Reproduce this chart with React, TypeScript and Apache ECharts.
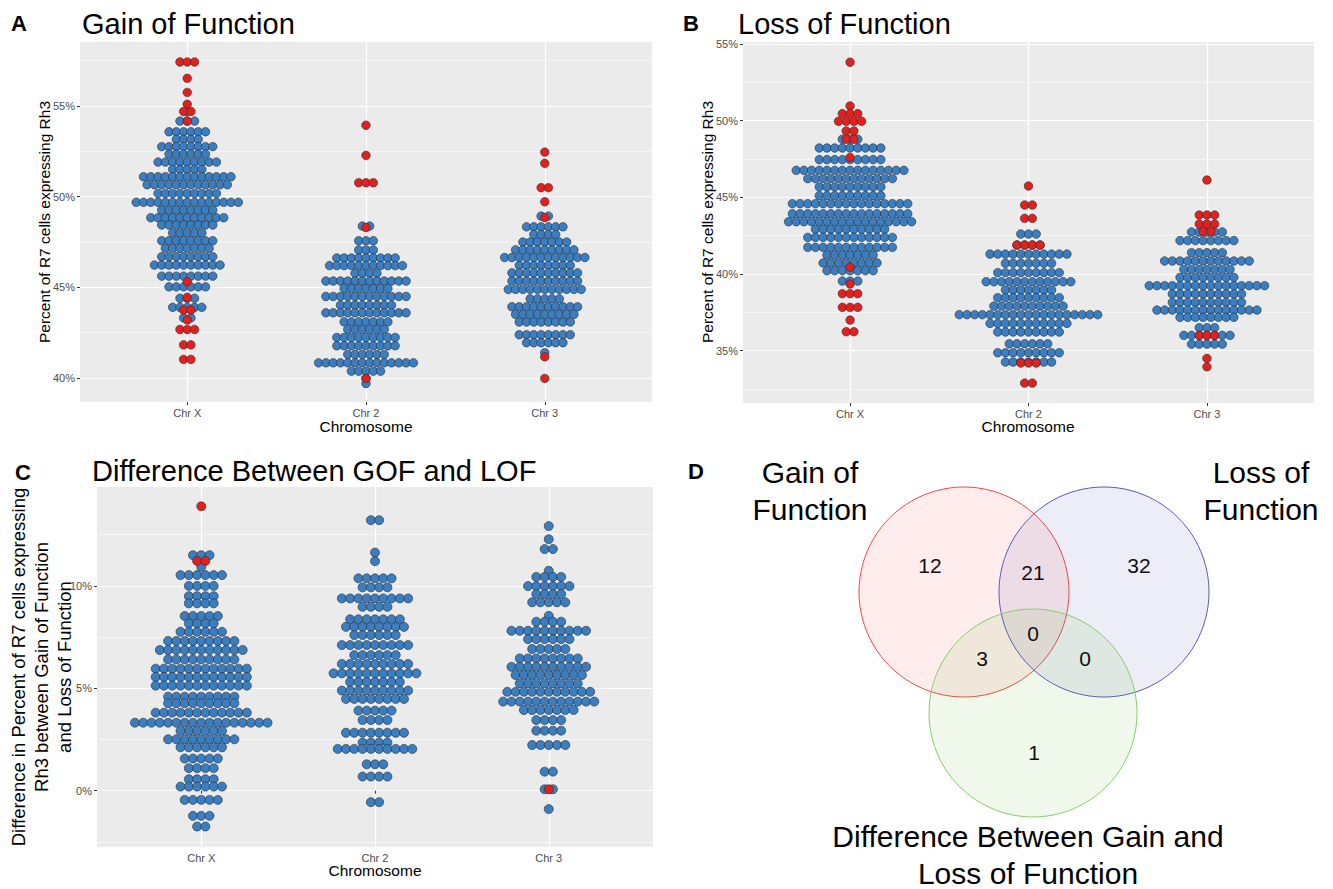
import React, { useEffect, useRef } from 'react';
import * as echarts from 'echarts';

const chromosomes = ['Chr X', 'Chr 2', 'Chr 3'];
const gofTicks = [40, 45, 50, 55];
const lofTicks = [35, 40, 45, 50, 55];
const diffTicks = [0, 5, 10];

// Panel A: Gain of Function — rows of [percent, number of dots]
const gofXBlue = [[54.7,1],[54.17,3],[53.58,6],[53.16,4],[52.76,8],[52.35,6],[51.91,9],[51.5,5],[51.1,13],[50.66,12],[50.18,9],[49.69,15],[49.26,8],[48.84,11],[48.44,8],[48.0,5],[47.57,8],[47.15,7],[46.69,8],[46.23,10],[45.62,8],[45.03,6],[44.4,3],[43.9,5],[43.32,2]];
const gofXRed = [[57.43,3],[56.53,1],[55.75,1],[55.1,1],[54.7,2],[54.17,1],[45.31,1],[44.45,1],[43.75,2],[43.2,1],[42.68,3],[41.83,2],[41.03,2]];
const gof2Blue = [[48.38,2],[47.57,3],[47.06,3],[46.62,9],[46.2,11],[45.77,4],[45.35,12],[44.94,7],[44.5,12],[44.02,8],[43.6,12],[43.1,7],[42.68,6],[42.24,9],[41.78,9],[41.3,6],[40.84,14],[40.38,5],[39.98,1],[39.7,1]];
const gof2Red = [[53.94,1],[52.28,1],[50.77,3],[48.3,1],[39.98,1]];
const gof3Blue = [[48.93,2],[48.34,6],[47.92,4],[47.5,7],[47.07,9],[46.65,12],[46.21,8],[45.8,10],[45.35,10],[44.89,11],[44.37,5],[43.93,10],[43.51,9],[43.09,8],[42.39,8],[41.95,6],[41.4,1]];
const gof3Red = [[52.46,1],[51.84,1],[50.5,2],[49.72,1],[48.85,1],[41.17,1],[39.98,1]];

// Panel B: Loss of Function
const lofXBlue = [[48.79,3],[48.22,9],[47.46,9],[46.76,15],[46.22,12],[45.68,9],[45.11,9],[44.59,16],[43.93,16],[43.41,17],[42.92,10],[42.39,12],[41.74,12],[41.24,7],[40.72,8],[40.22,7],[39.54,3]];
const lofXRed = [[53.81,1],[50.96,1],[50.46,3],[49.96,4],[49.33,2],[48.79,2],[47.6,1],[40.45,1],[39.35,1],[38.72,3],[37.83,3],[37.0,1],[36.24,2]];
const lof2Blue = [[42.61,3],[41.89,4],[41.3,11],[40.7,7],[40.09,9],[39.5,12],[38.96,7],[38.46,9],[37.91,10],[37.35,19],[36.78,11],[36.22,9],[35.45,6],[34.87,9],[34.26,7]];
const lof2Red = [[45.74,1],[44.5,2],[43.63,2],[41.89,4],[34.2,3],[32.89,2]];
const lof3Blue = [[42.74,5],[42.18,8],[41.39,5],[40.85,12],[40.3,7],[39.78,8],[39.24,16],[38.7,10],[38.15,10],[37.65,14],[37.18,8],[36.5,3],[36.0,7],[35.43,5]];
const lof3Red = [[46.13,1],[43.85,3],[43.26,3],[42.78,2],[36.0,3],[34.5,1],[33.95,1]];

// Panel C: Difference between GOF and LOF
const diffXBlue = [[11.5,3],[10.93,1],[10.53,6],[10.0,4],[9.5,4],[9.15,4],[8.53,5],[8.17,4],[7.76,6],[7.31,9],[6.87,11],[6.41,9],[5.96,12],[5.55,12],[5.13,12],[4.59,9],[4.27,9],[3.81,12],[3.32,17],[2.92,6],[2.51,9],[2.12,6],[1.57,5],[1.1,4],[0.56,4],[0.2,6],[-0.45,5],[-1.23,3],[-1.75,2]];
const diffXRed = [[13.89,1],[11.22,2]];
const diff2Blue = [[13.21,2],[11.63,1],[11.21,1],[10.37,5],[9.93,4],[9.39,9],[8.98,4],[8.37,7],[8.0,8],[7.6,6],[7.11,9],[6.62,6],[6.19,9],[5.73,11],[5.31,7],[4.89,9],[4.48,8],[3.91,5],[3.45,4],[2.83,8],[2.35,4],[2.04,10],[1.29,3],[0.69,4],[-0.56,2]];
const diff2Red: number[][] = [];
const diff3Blue = [[12.92,1],[12.28,1],[11.8,2],[10.74,1],[10.44,4],[9.99,6],[9.6,4],[9.2,5],[8.54,1],[8.25,4],[7.81,10],[7.4,6],[6.92,5],[6.46,8],[6.05,10],[5.65,9],[5.24,8],[4.83,11],[4.35,12],[3.94,7],[3.45,4],[2.93,4],[2.23,5],[0.93,2],[0.07,2],[-0.9,1]];
const diff3Red = [[0.07,1]];

// Panel D: Venn counts
const vennSets = ['Gain of\nFunction', 'Loss of\nFunction', 'Difference Between Gain and\nLoss of Function'];
const vennGofOnly = 12;
const vennGofLof = 21;
const vennLofOnly = 32;
const vennAll = 0;
const vennGofDiff = 3;
const vennLofDiff = 0;
const vennDiffOnly = 1;

const FONT = '"Liberation Sans", Arial, Helvetica, sans-serif';
const BLUE = '#3a7dc0';
const RED = '#e4201e';

function buildDots(groups: number[][][], step: number) {
  const out: number[][] = [];
  groups.forEach((rows, ci) => {
    rows.forEach(([v, n]) => {
      for (let j = 0; j < n; j++) out.push([ci + 1 + (j - (n - 1) / 2) * step, v]);
    });
  });
  return out;
}

const pctFmt = (v: number) => (Math.abs(v - Math.round(v / 5) * 5) < 1e-6 ? `${Math.round(v)}%` : '');

export default function App() {
  const ref = useRef<HTMLDivElement>(null);
  useEffect(() => {
    document.body.style.margin = '0';
    const chart = echarts.init(ref.current!, undefined, { renderer: 'svg' });
    const panels = [
      { left: 80, top: 42, width: 572, height: 360, min: 38.68, max: 58.53, ticks: gofTicks, step: 0.0408, size: 8.5,
        blue: [gofXBlue, gof2Blue, gof3Blue], red: [gofXRed, gof2Red, gof3Red] },
      { left: 743, top: 42, width: 571, height: 361, min: 31.59, max: 55.13, ticks: lofTicks, step: 0.0431, size: 8.5,
        blue: [lofXBlue, lof2Blue, lof3Blue], red: [lofXRed, lof2Red, lof3Red] },
      { left: 97, top: 487, width: 556, height: 360, min: -2.75, max: 14.83, ticks: diffTicks, step: 0.0477, size: 9,
        blue: [diffXBlue, diff2Blue, diff3Blue], red: [diffXRed, diff2Red, diff3Red] },
    ];
    const grid: any[] = [];
    const xAxis: any[] = [];
    const yAxis: any[] = [];
    const series: any[] = [];
    panels.forEach((p, i) => {
      grid.push({ left: p.left, top: p.top, width: p.width, height: p.height, show: true, backgroundColor: '#ebebeb', borderWidth: 0 });
      xAxis.push({
        type: 'value', gridIndex: i, min: 0.4, max: 3.6, minInterval: 1, maxInterval: 1,
        axisLine: { show: false },
        axisTick: { show: true, length: 3, customValues: [1, 2, 3], lineStyle: { color: '#333', width: 1 } },
        axisLabel: { customValues: [1, 2, 3], margin: 5, color: '#4d4d4d', fontSize: 11, fontFamily: FONT,
          formatter: (v: number) => chromosomes[Math.round(v) - 1] && Math.abs(v - Math.round(v)) < 1e-6 ? chromosomes[Math.round(v) - 1] : '' },
        splitLine: { show: true, lineStyle: { color: '#ffffff', width: 1.2 } },
      });
      // minor grid axis
      yAxis.push({
        type: 'value', gridIndex: i, position: 'right', min: p.min, max: p.max, minInterval: 2.5, maxInterval: 2.5,
        axisLine: { show: false }, axisTick: { show: false }, axisLabel: { show: false },
        splitLine: { show: true, showMinLine: false, showMaxLine: false, lineStyle: { color: '#f6f6f6', width: 1 } },
      });
      yAxis.push({
        type: 'value', gridIndex: i, position: 'left', min: p.min, max: p.max, minInterval: 5, maxInterval: 5,
        axisLine: { show: false },
        axisTick: { show: true, length: 3, customValues: p.ticks, lineStyle: { color: '#333', width: 1 } },
        axisLabel: { customValues: p.ticks, margin: 5, color: '#4d4d4d', fontSize: 11, fontFamily: FONT, formatter: pctFmt },
        splitLine: { show: true, lineStyle: { color: '#ffffff', width: 1.2 } },
      });
      series.push({
        type: 'scatter', xAxisIndex: i, yAxisIndex: i * 2 + 1, symbolSize: p.size, silent: true,
        itemStyle: { color: BLUE, borderColor: '#2a2a2a', borderWidth: 0.6, opacity: 1 },
        data: buildDots(p.blue, p.step),
      });
      series.push({
        type: 'scatter', xAxisIndex: i, yAxisIndex: i * 2 + 1, symbolSize: p.size, silent: true,
        itemStyle: { color: RED, borderColor: '#2a2a2a', borderWidth: 0.6, opacity: 1 },
        data: buildDots(p.red, p.step),
      });
    });

    const txt = (text: string, x: number, y: number, size: number, extra: any = {}) => ({
      type: 'text', x, y, z: 10, rotation: extra.rotation || 0,
      style: { text, fontSize: size, fontFamily: FONT, fill: extra.fill || '#000', fontWeight: extra.bold ? 'bold' : 'normal',
        align: extra.align || 'left', verticalAlign: 'middle', lineHeight: extra.lineHeight },
    });

    const graphic: any[] = [
      txt('A', 19, 23, 22, { bold: true, align: 'center' }),
      txt('Gain of Function', 82, 24, 29),
      txt('B', 691, 23, 22, { bold: true, align: 'center' }),
      txt('Loss of Function', 738, 24, 29),
      txt('C', 23, 472, 22, { bold: true, align: 'center' }),
      txt('Difference Between GOF and LOF', 92, 471, 29),
      txt('D', 696, 471, 22, { bold: true, align: 'center' }),
      txt('Percent of R7 cells expressing Rh3', 44, 222, 15.5, { rotation: Math.PI / 2, align: 'center' }),
      txt('Percent of R7 cells expressing Rh3', 707, 222, 15.5, { rotation: Math.PI / 2, align: 'center' }),
      txt('Difference in Percent of R7 cells expressing\nRh3 between Gain of Function\nand Loss of Function', 41, 667, 18.5,
        { rotation: Math.PI / 2, align: 'center', lineHeight: 23 }),
      txt('Chromosome', 366, 426, 15.5, { align: 'center' }),
      txt('Chromosome', 1028, 426, 15.5, { align: 'center' }),
      txt('Chromosome', 375, 870, 15.5, { align: 'center' }),
      // Venn
      { type: 'circle', z: 1, shape: { cx: 964, cy: 592, r: 105 }, style: { fill: 'rgba(255,0,0,0.07)', stroke: '#ee4c4c', lineWidth: 1 } },
      { type: 'circle', z: 1, shape: { cx: 1104, cy: 592, r: 105 }, style: { fill: 'rgba(51,51,170,0.09)', stroke: '#5a5cb8', lineWidth: 1 } },
      { type: 'circle', z: 1, shape: { cx: 1033, cy: 713, r: 104 }, style: { fill: 'rgba(102,187,51,0.1)', stroke: '#88cc6e', lineWidth: 1 } },
      txt(String(vennGofOnly), 930, 565, 21, { align: 'center', fill: '#111' }),
      txt(String(vennGofLof), 1033, 572, 21, { align: 'center', fill: '#111' }),
      txt(String(vennLofOnly), 1139, 565, 21, { align: 'center', fill: '#111' }),
      txt(String(vennAll), 1033, 633, 21, { align: 'center', fill: '#111' }),
      txt(String(vennGofDiff), 982, 658, 21, { align: 'center', fill: '#111' }),
      txt(String(vennLofDiff), 1085, 658, 21, { align: 'center', fill: '#111' }),
      txt(String(vennDiffOnly), 1034, 752, 21, { align: 'center', fill: '#111' }),
      txt(vennSets[0], 810, 491, 30, { align: 'center', lineHeight: 37 }),
      txt(vennSets[1], 1261, 491, 30, { align: 'center', lineHeight: 37 }),
      txt(vennSets[2], 1028, 855, 30, { align: 'center', lineHeight: 36.5 }),
    ];

    chart.setOption({ animation: false, backgroundColor: '#ffffff', grid, xAxis, yAxis, series, graphic });
    return () => chart.dispose();
  }, []);
  return <div ref={ref} style={{ width: 1333, height: 889, overflow: 'hidden' }} />;
}
